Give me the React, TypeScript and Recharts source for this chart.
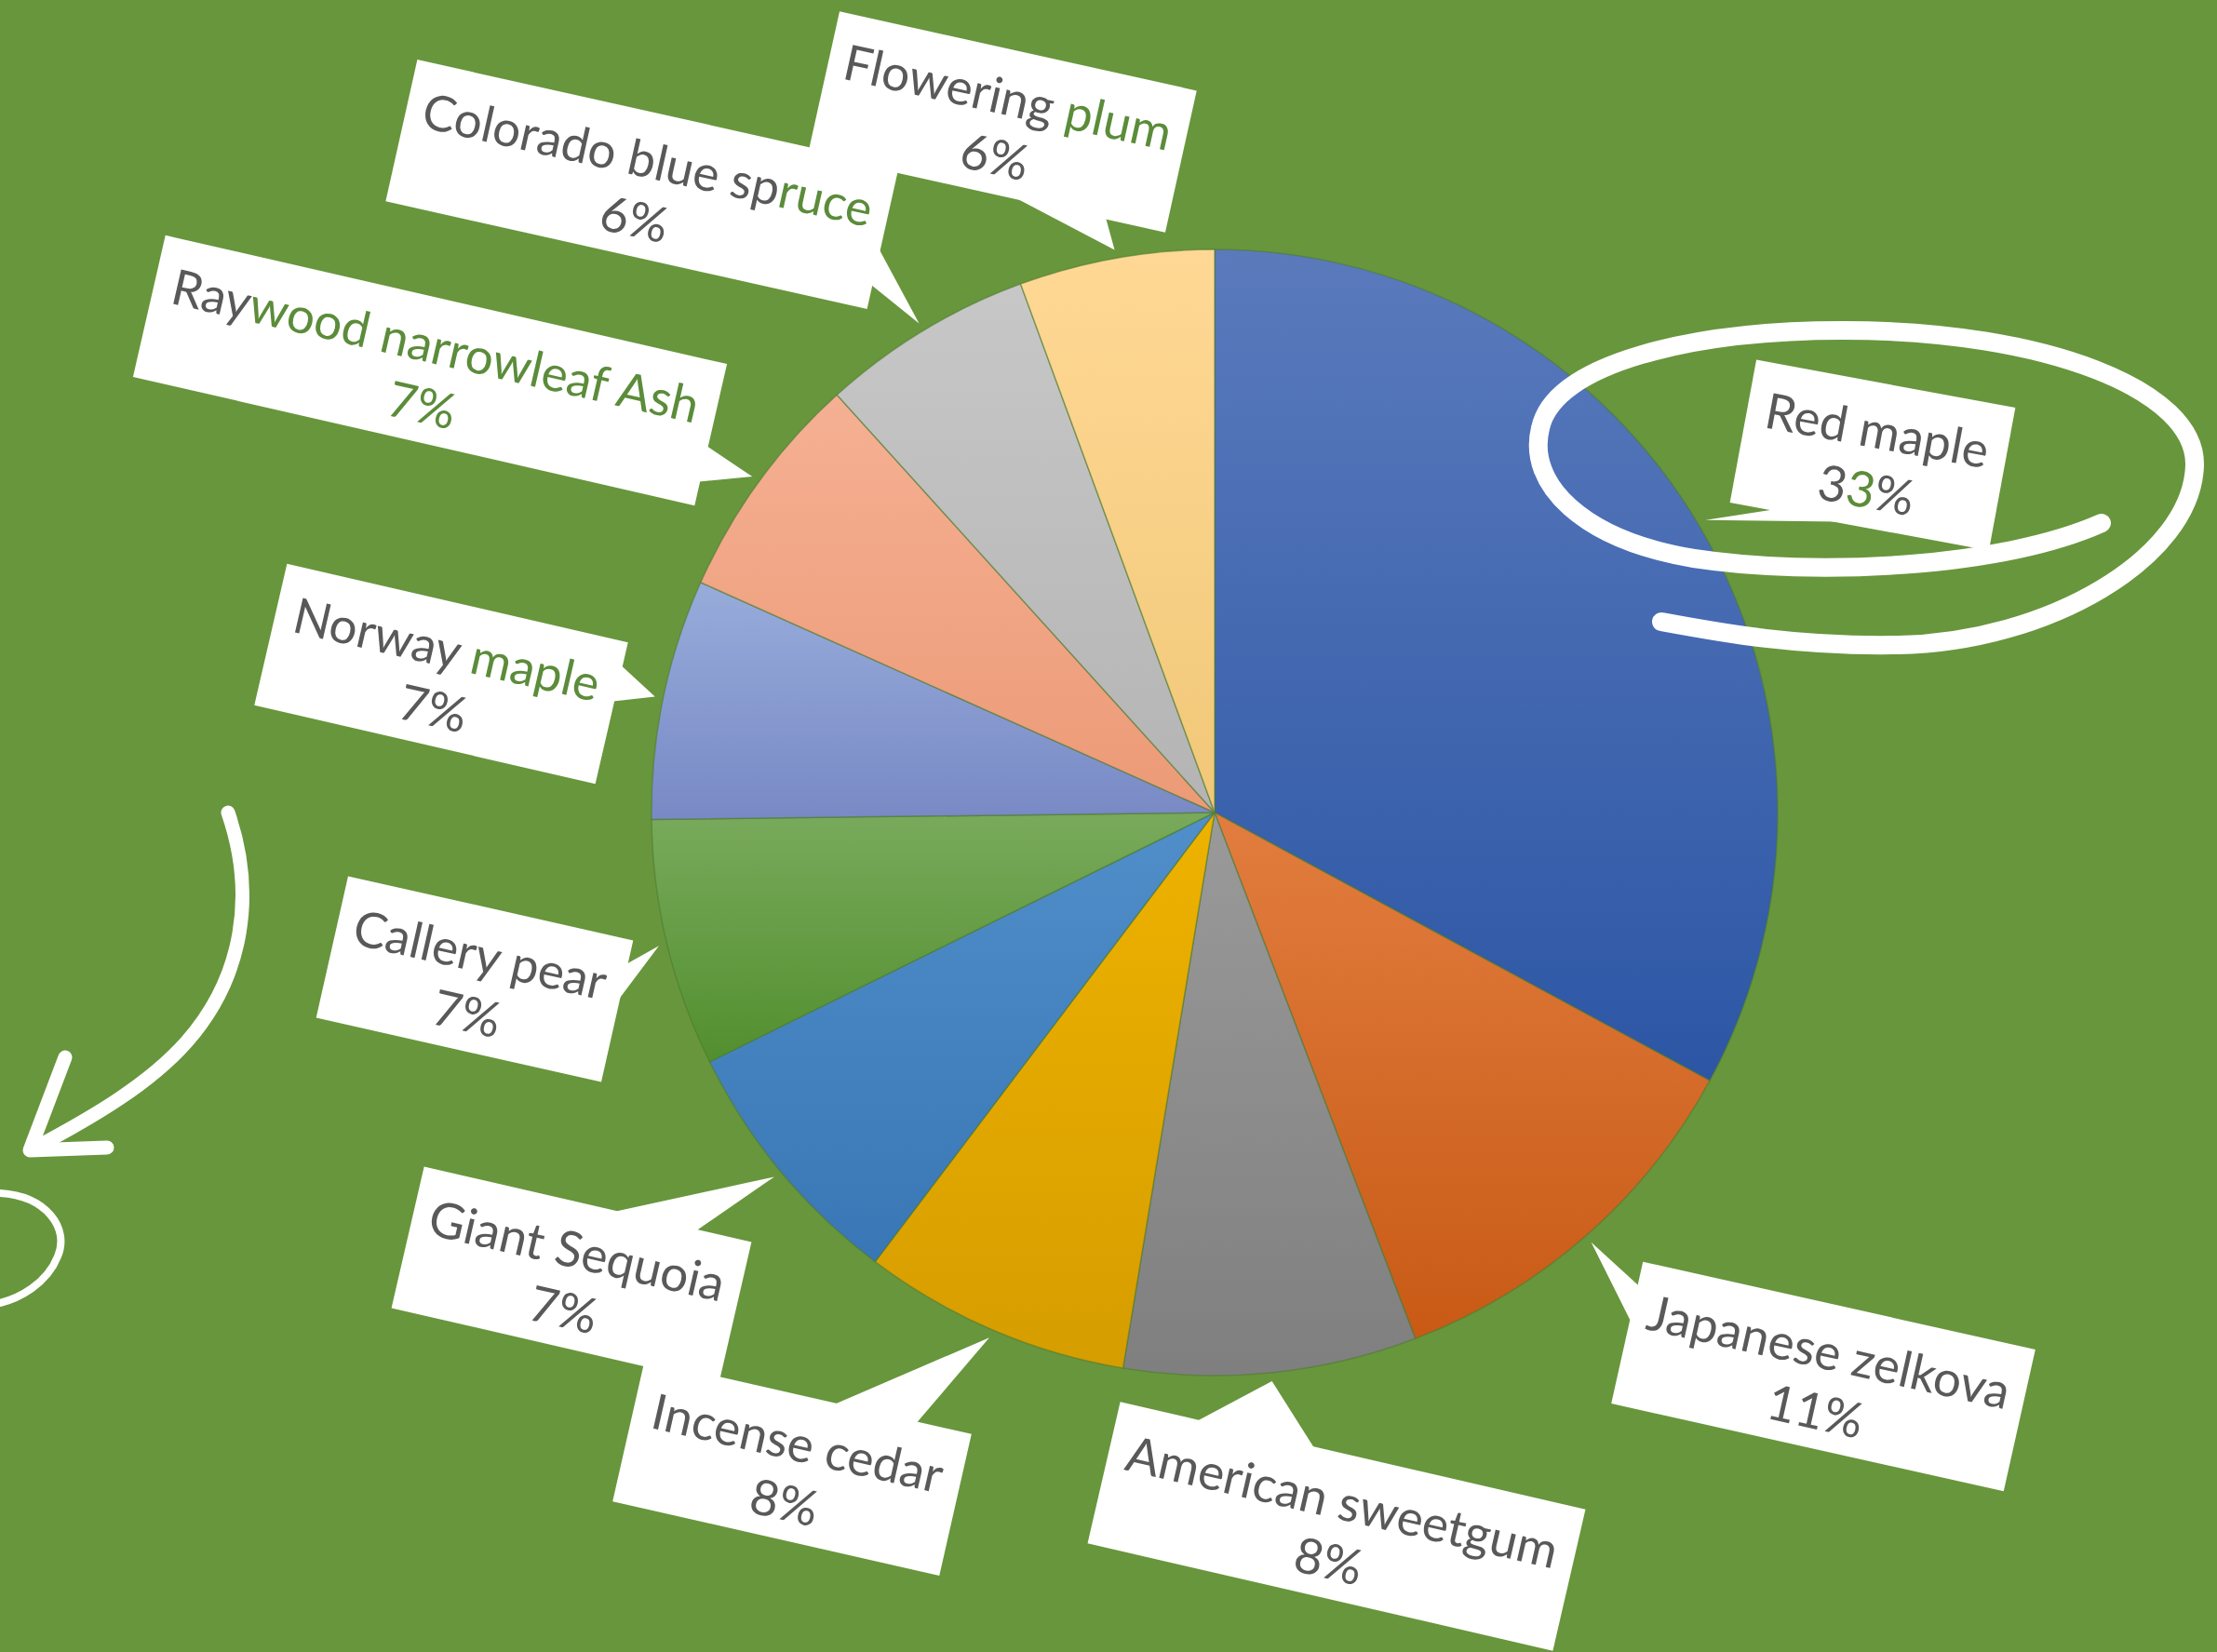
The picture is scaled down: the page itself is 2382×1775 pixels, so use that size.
import React from 'react';
import { PieChart, Pie, Cell } from 'recharts';

// Tree species share (counts)
const species = [
  'Red maple',
  'Japanese zelkova',
  'American sweetgum',
  'Incense cedar',
  'Giant Sequoia',
  'Callery pear',
  'Norway maple',
  'Raywood narrowleaf Ash',
  'Colorado blue spruce',
  'Flowering plum',
];
const counts = [329, 113, 84, 77, 74, 71, 69, 66, 61, 56];

// Office-style gradient fills, top -> bottom
const gradTop = ['#5a7abc', '#e27d3f', '#9a9a9a', '#eeb200', '#508fca', '#79aa5c', '#98acdb', '#f5b093', '#c7c7c7', '#ffd895'];
const gradBottom = ['#2c56a5', '#c85a15', '#7f7f7f', '#d69d00', '#3976b5', '#528f2e', '#7889c5', '#ec9a76', '#b4b4b4', '#f1c878'];

// Callout layout: box centre offset from pie centre, box width, tilt (deg)
const boxOffsets = [
  [707, -384], [654, 606], [131, 767], [-454, 704], [-691, 497],
  [-795, 179], [-831, -149], [-843, -475], [-615, -675], [-228, -742],
];
const boxWidths = [283, 432, 513, 360, 361, 314, 376, 619, 530, 393];
const boxTilt = [10.5, 12.6, 13, 12.8, 13, 12.7, 13, 12.9, 12.6, 12.5];

// bits of label text that came out tinted green in the source
const nameTint: Record<number, [number, number]> = { 6: [7, 12], 7: [3, 22], 8: [16, 20], 9: [10, 14] };
const pctTint: Record<number, [number, number]> = { 0: [1, 2], 7: [0, 3] };

const W = 2382;
const H = 1775;
const CX = 1305;
const CY = 873;
const R = 605;
const BOX_H = 156;
const FONT = 53;
const TEXT = '#595959';
const TINT = '#5b8c3a';

const data = species.map((name, i) => ({ name, value: counts[i] }));

function tinted(str: string, range?: [number, number]) {
  if (!range) return str;
  const [a, b] = range;
  return (
    <>
      {str.slice(0, a)}
      <tspan fill={TINT}>{str.slice(a, b)}</tspan>
      {str.slice(b)}
    </>
  );
}

const renderCallout = (props: any) => {
  const { midAngle, percent, index } = props;
  const cx = props.cx ?? CX;
  const cy = props.cy ?? CY;
  const r = (props.outerRadius ?? R) + 9;
  const rad = Math.PI / 180;
  const tx = cx + r * Math.cos(-midAngle * rad);
  const ty = cy + r * Math.sin(-midAngle * rad);
  const [ox, oy] = boxOffsets[index];
  const bx = cx + ox;
  const by = cy + oy;
  const a = boxTilt[index] * rad;
  const dx = tx - bx;
  const dy = ty - by;
  // tip in the box's own (rotated) frame
  const lx = dx * Math.cos(a) + dy * Math.sin(a);
  const ly = -dx * Math.sin(a) + dy * Math.cos(a);
  const w = boxWidths[index];
  const h = BOX_H;

  let p1: number[];
  let p2: number[];
  if (Math.abs(lx) / (w / 2) > Math.abs(ly) / (h / 2)) {
    const ex = Math.sign(lx) * (w / 2 - 1);
    const s = ly < 0 ? -1 : 1;
    p1 = [ex, (s * h) / 12];
    p2 = [ex, (s * h) / 3];
  } else {
    const ey = Math.sign(ly) * (h / 2 - 1);
    const s = lx < 0 ? -1 : 1;
    p1 = [(s * w) / 12, ey];
    p2 = [(s * w) / 3, ey];
  }
  const pct = `${Math.round(percent * 100)}%`;

  return (
    <g key={`callout-${index}`} transform={`translate(${bx},${by}) rotate(${boxTilt[index]})`}>
      <rect x={-w / 2} y={-h / 2} width={w} height={h} fill="#ffffff" />
      <polygon points={`${p1[0]},${p1[1]} ${lx},${ly} ${p2[0]},${p2[1]}`} fill="#ffffff" />
      <text x={0} y={-8} textAnchor="middle" fontFamily="Lato" fontSize={FONT} fill={TEXT}>
        {tinted(species[index], nameTint[index])}
      </text>
      <text x={0} y={57} textAnchor="middle" fontFamily="Lato" fontSize={FONT} fill={TEXT}>
        {tinted(pct, pctTint[index])}
      </text>
    </g>
  );
};

export default function App() {
  return (
    <div style={{ position: 'fixed', left: 0, top: 0, width: W, height: H, background: '#68963c', overflow: 'hidden' }}>
      <svg width={0} height={0} style={{ position: 'absolute' }}>
        <defs>
          {gradTop.map((c, i) => (
            <linearGradient key={i} id={`slice-${i}`} x1="0" y1="0" x2="0" y2="1">
              <stop offset="0%" stopColor={c} />
              <stop offset="100%" stopColor={gradBottom[i]} />
            </linearGradient>
          ))}
        </defs>
      </svg>

      <PieChart width={W} height={H} margin={{ top: 0, right: 0, bottom: 0, left: 0 }}>
        <Pie
          data={data}
          dataKey="value"
          nameKey="name"
          cx={CX}
          cy={CY}
          outerRadius={R}
          startAngle={90}
          endAngle={-270}
          stroke="#4d7a30"
          strokeOpacity={0.55}
          strokeWidth={1.5}
          label={renderCallout}
          labelLine={false}
          isAnimationActive={false}
        >
          {data.map((d, i) => (
            <Cell key={d.name} fill={`url(#slice-${i})`} />
          ))}
        </Pie>
      </PieChart>

      {/* hand-drawn annotations */}
      <svg width={W} height={H} style={{ position: 'absolute', left: 0, top: 0, pointerEvents: 'none' }}>
        <path
          d="M 2258 562 C 2150 610, 1950 620, 1820 600 C 1700 580, 1640 520, 1655 460 C 1670 390, 1820 355, 1980 355 C 2200 355, 2360 420, 2358 500 C 2355 600, 2200 690, 2040 693 C 1930 695, 1850 680, 1785 668"
          fill="none"
          stroke="#ffffff"
          strokeWidth={20}
          strokeLinecap="round"
        />
        <path
          d="M 245 873 C 275 960, 262 1050, 200 1120 C 160 1165, 100 1200, 40 1232"
          fill="none"
          stroke="#ffffff"
          strokeWidth={15}
          strokeLinecap="round"
        />
        <path d="M 70 1136 L 32 1236 L 115 1233" fill="none" stroke="#ffffff" strokeWidth={15} strokeLinecap="round" strokeLinejoin="round" />
        <path
          d="M 0 1282 C 50 1285, 75 1320, 62 1350 C 50 1380, 20 1395, 0 1400"
          fill="none"
          stroke="#ffffff"
          strokeWidth={8}
          strokeLinecap="round"
        />
      </svg>
    </div>
  );
}
